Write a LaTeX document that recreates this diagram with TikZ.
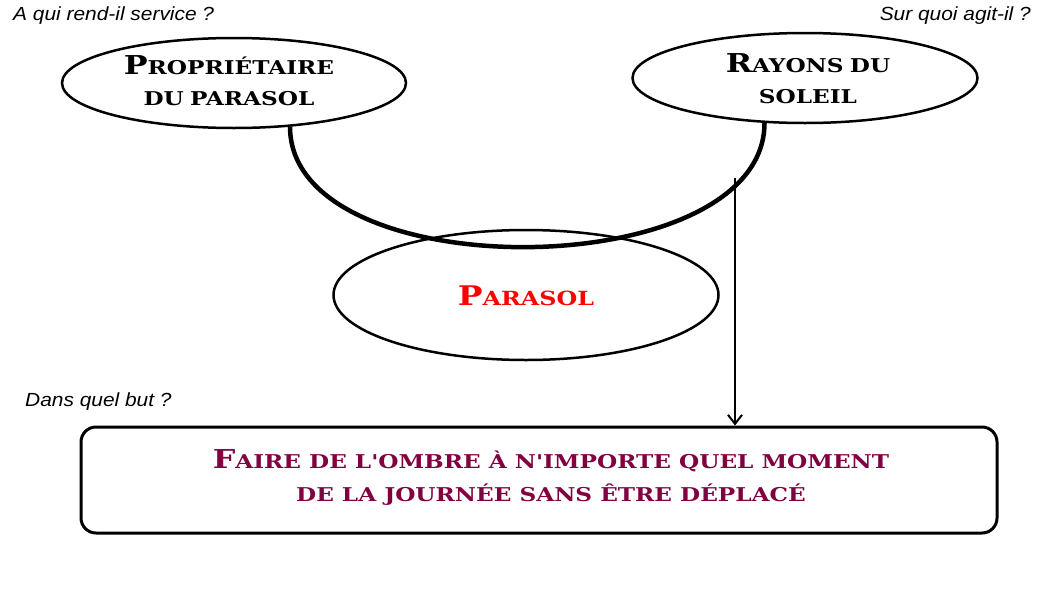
\documentclass[tikz,border=0pt]{standalone}
\usepackage{fontspec}
\setmainfont{DejaVu Serif}
\newfontfamily\hornfont[FakeStretch=1.22]{DejaVu Serif}
\newfontfamily\lab[FakeStretch=1.1]{Liberation Sans}
\usetikzlibrary{shapes.geometric,arrows.meta}
\definecolor{maroonbox}{RGB}{128,0,64}
\newcommand\Ini[1]{{\fontsize{26}{30}\selectfont #1}}
\newcommand\IniP[1]{{\fontsize{27}{32}\selectfont #1}}
\begin{document}
\begin{tikzpicture}[x=1pt,y=-1pt,
  question/.style={font=\lab\itshape\fontsize{19}{22}\selectfont, inner sep=0pt},
  horn/.style={ellipse, draw, line width=2.5pt, inner sep=0pt},
  hornlabel/.style={font=\hornfont\bfseries\fontsize{19}{31}\selectfont, align=center, text width=340pt},
  goalbox/.style={draw, line width=3pt, rounded corners=15pt, minimum width=916pt, minimum height=106pt},
  goaltext/.style={font=\hornfont\bfseries\fontsize{19}{33}\selectfont, text=maroonbox, align=center}]
\useasboundingbox (0,0) rectangle (1050,600);
\node[question, anchor=west] (q1) at (13,16) {A qui rend-il service ?};
\node[question, anchor=east] (q2) at (1031,16) {Sur quoi agit-il ?};
\node[question, anchor=west] (q3) at (25,402) {Dans quel but ?};
\node[horn, minimum width=344pt, minimum height=90pt] (e1) at (234,83) {};
\node[horn, minimum width=345pt, minimum height=90pt] (e2) at (805,78) {};
\node[horn, minimum width=385pt, minimum height=130pt] (e3) at (526,295) {};
\node[hornlabel] (t1) at (229,81) {\Ini{P}ROPRIÉTAIRE\\DU PARASOL};
\node[hornlabel] (t2) at (808,79) {\Ini{R}AYONS DU\\SOLEIL};
\node[font=\hornfont\bfseries\fontsize{19.5}{24}\selectfont, text=red] (t3) at (526,296) {\IniP{P}ARASOL};
\node[goalbox] (box) at (539,480) {};
\node[goaltext] (t4) at (551,477) {\Ini{F}AIRE DE L'OMBRE À N'IMPORTE QUEL MOMENT\\DE LA JOURNÉE SANS ÊTRE DÉPLACÉ};
\draw[line width=4.5pt] (e1.-38) .. controls +(0,163) and +(0,163) .. (e2.-132);
\coordinate (a) at (735,178);
\draw[line width=2pt, -{Straight Barb[length=9pt,width=14pt,line width=2pt]}] (a) -- (a |- box.north);
\end{tikzpicture}
\end{document}
